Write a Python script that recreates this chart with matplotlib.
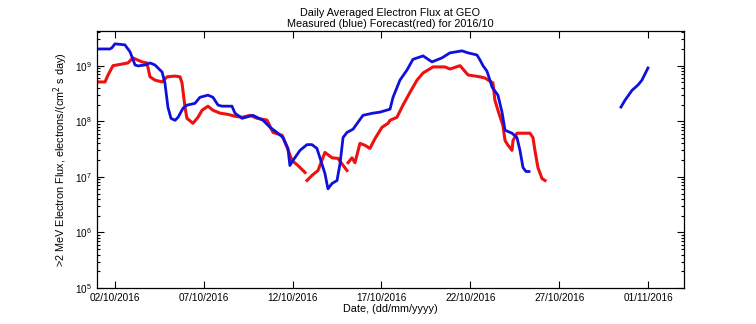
import numpy as np
import pandas as pd
import matplotlib
matplotlib.use('Agg')
import matplotlib.pyplot as plt
import matplotlib.dates as mdates
from matplotlib.ticker import LogLocator, NullFormatter

plt.rcParams['font.family'] = ['Liberation Sans', 'DejaVu Sans']

# day of October 2016 (1.0 = 01/10 00:00), flux values
blue_day = [1.0, 1.73, 1.84, 2.01, 2.57, 2.86, 3.14, 3.31, 3.70, 3.98, 4.26, 4.66, 4.82, 4.99,
            5.16, 5.39, 5.56, 5.84, 6.06, 6.51, 6.79, 7.24, 7.52, 7.81, 8.03, 8.59, 8.76, 9.16,
            9.77, 10.34, 10.73, 11.12, 11.46, 11.74, 11.85, 12.02, 12.42, 12.81, 13.09, 13.37,
            13.54, 13.82, 13.99, 14.22, 14.50, 14.67, 14.84, 15.06, 15.40, 15.68, 15.96, 16.52,
            16.92, 17.48, 17.65, 18.04, 18.44, 18.77, 19.34, 19.84, 20.40, 20.85, 21.53, 21.87,
            22.37, 22.54, 22.71, 22.93, 23.10, 23.22, 23.55, 23.78, 23.95, 24.34, 24.62, 24.79,
            24.96, 25.13, 25.30, 25.8,
            30.47, 30.70, 31.09, 31.43, 31.65, 31.99]
blue_flux = [2.0e9, 2.0e9, 2.1e9, 2.47e9, 2.37e9, 1.77e9, 1.03e9, 9.9e8, 1.03e9, 1.12e9, 1.03e9,
             7.7e8, 4.9e8, 1.79e8, 1.13e8, 1.04e8, 1.18e8, 1.72e8, 1.95e8, 2.1e8, 2.7e8, 2.95e8,
             2.7e8, 1.95e8, 1.87e8, 1.87e8, 1.4e8, 1.13e8,
             1.28e8, 1.04e8, 7.8e7, 6.3e7, 5.1e7, 3.25e7, 1.6e7, 1.97e7, 3.0e7, 3.8e7, 3.8e7,
             3.25e7, 2.2e7, 1.15e7, 6.1e6, 7.6e6, 8.6e6, 1.74e7, 5.1e7, 6.3e7, 7.2e7, 9.6e7,
             1.28e8, 1.4e8,
             1.46e8, 1.65e8, 2.7e8, 5.5e8, 8.4e8, 1.3e9, 1.5e9, 1.17e9, 1.38e9, 1.7e9, 1.85e9,
             1.7e9, 1.56e9, 1.27e9, 1.0e9, 8.0e8, 5.5e8, 4.1e8, 2.95e8, 1.46e8, 6.9e7, 6.1e7,
             5.1e7, 3.0e7, 1.47e7, 1.25e7, 1.25e7, np.nan,
             1.8e8, 2.4e8, 3.6e8, 4.5e8, 5.5e8, 9.1e8]

red_day = [1.0, 1.45, 1.62, 1.90, 2.41, 2.74, 3.02, 3.53, 3.81, 3.98, 4.26, 4.66, 4.94, 5.39,
           5.67, 5.78, 5.95, 6.06, 6.40, 6.68, 6.91, 7.24, 7.52, 7.92, 8.37, 8.76, 9.16, 9.61,
           10.00, 10.56, 10.90, 11.41, 11.69, 11.97, 12.30, 12.70, 12.75, 12.81, 13.09, 13.43,
           13.82, 14.22, 14.55, 15.06, 15.09, 15.12, 15.34, 15.51, 15.79, 16.07, 16.35, 16.64,
           17.03, 17.37, 17.48, 17.87, 18.21, 18.60, 19.00, 19.34, 19.90, 20.57, 20.85, 21.42,
           21.87, 22.54, 22.82, 23.27, 23.38, 23.55, 23.83, 23.95, 24.12, 24.34, 24.40, 24.62,
           24.90, 25.35, 25.52, 25.63, 25.80, 26.03, 26.20]
red_flux = [5.1e8, 5.1e8, 6.8e8, 1.0e9, 1.07e9, 1.12e9, 1.38e9, 1.17e9, 1.12e9, 6.3e8, 5.5e8,
            5.1e8, 6.3e8, 6.5e8, 6.3e8, 4.9e8, 1.79e8, 1.13e8, 9.2e7, 1.18e8, 1.58e8, 1.87e8,
            1.58e8, 1.4e8, 1.33e8, 1.23e8, 1.18e8, 1.28e8,
            1.13e8, 1.05e8, 6.3e7, 5.6e7, 3.4e7, 1.97e7, 1.6e7, 1.2e7, np.nan, 8.6e6, 1.06e7,
            1.3e7, 2.75e7, 2.2e7, 2.15e7, 1.3e7, np.nan, 1.8e7, 2.2e7, 1.8e7, 4.0e7, 3.7e7,
            3.25e7, 4.9e7, 7.8e7, 9.2e7, 1.04e8, 1.18e8, 1.95e8, 3.3e8, 5.5e8, 7.4e8, 9.5e8,
            9.5e8, 8.7e8, 1.0e9, 6.8e8, 6.3e8, 6.0e8, 4.9e8, 2.4e8, 1.58e8, 8.4e7, 4.5e7,
            3.7e7, 3.0e7, 4.5e7, 6.1e7, 6.1e7, 6.1e7, 5.1e7, 3.0e7, 1.47e7, 9.3e6, 8.6e6]

date_ticks = ['2016-10-02', '2016-10-07', '2016-10-12', '2016-10-17', '2016-10-22',
              '2016-10-27', '2016-11-01']

t0 = pd.Timestamp('2016-09-30')
bx = t0 + pd.to_timedelta(blue_day, unit='D')
rx = t0 + pd.to_timedelta(red_day, unit='D')

fig = plt.figure(figsize=(7.56, 3.24), dpi=100)
ax = fig.add_axes([0.1283, 0.111, 0.7761, 0.7932])
ax.plot(rx, red_flux, color='#ee1111', lw=2.2)
ax.plot(bx, blue_flux, color='#1010dd', lw=2.0)

ax.set_yscale('log')
ax.set_ylim(1e5, 4.2e9)
ax.set_xlim(t0 + pd.Timedelta(days=1), t0 + pd.Timedelta(days=34))
ax.set_xticks(pd.to_datetime(date_ticks))
ax.xaxis.set_major_formatter(mdates.DateFormatter('%d/%m/%Y'))
ax.yaxis.set_major_locator(LogLocator(base=10, numticks=10))
ax.yaxis.set_minor_locator(LogLocator(base=10, subs=np.arange(2, 10), numticks=20))
ax.yaxis.set_minor_formatter(NullFormatter())
ax.tick_params(which='both', direction='in', top=True, right=True, labelsize=7.2, width=0.8)
ax.tick_params(which='major', length=5)
ax.tick_params(which='minor', length=2.5)
for s in ax.spines.values():
    s.set_linewidth(0.9)

ax.set_title('Daily Averaged Electron Flux at GEO\nMeasured (blue) Forecast(red) for 2016/10',
             fontsize=7.8, linespacing=1.05, pad=3)
ax.set_xlabel('Date, (dd/mm/yyyy)', fontsize=7.8, labelpad=1)
ax.set_ylabel('>2 MeV Electron Flux, electrons/(cm$^2$ s day)', fontsize=7.8, labelpad=4)

plt.savefig('out.png', dpi=100)
